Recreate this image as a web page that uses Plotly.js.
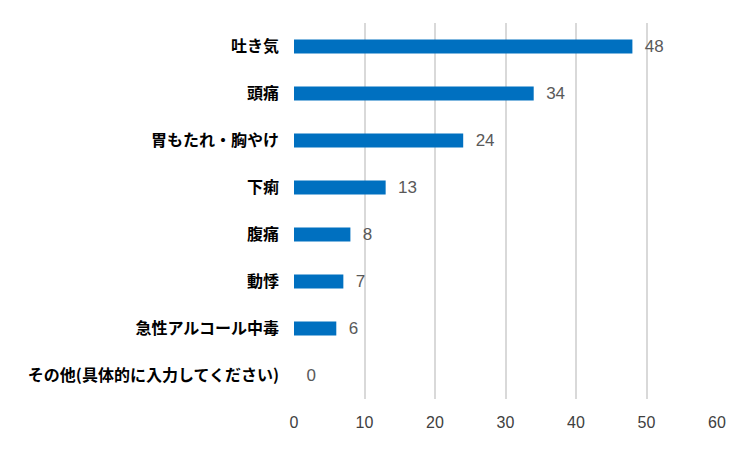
<!DOCTYPE html>
<html>
<head>
<meta charset="utf-8">
<script src="https://cdn.plot.ly/plotly-3.0.1.min.js"></script>
<style>html,body{margin:0;padding:0;background:#fff;}</style>
</head>
<body>
<div id="chart" style="width:751px;height:450px;"></div>
<script>
const categories = ["吐き気", "頭痛", "胃もたれ・胸やけ", "下痢", "腹痛", "動悸", "急性アルコール中毒", "その他(具体的に入力してください)"];
const values = [48, 34, 24, 13, 8, 7, 6, 0];
const xTicks = [0, 10, 20, 30, 40, 50, 60];

const trace = {
  type: "bar",
  orientation: "h",
  y: categories,
  x: values,
  marker: { color: "#0070C0" },
  texttemplate: "\u00a0\u00a0%{x}",
  textposition: "outside",
  constraintext: "none",
  cliponaxis: false,
  textfont: { family: "'Liberation Sans Narrow', 'Liberation Sans', sans-serif", size: 17, color: "#595959" },
  hoverinfo: "none"
};

const layout = {
  width: 751, height: 450,
  margin: { l: 294, r: 34, t: 23, b: 51 },
  paper_bgcolor: "#ffffff",
  plot_bgcolor: "#ffffff",
  showlegend: false,
  bargap: 0.70,
  xaxis: {
    range: [0, 60],
    tickvals: xTicks,
    ticktext: xTicks.map(String),
    showgrid: true,
    gridcolor: "#d9d9d9",
    gridwidth: 2,
    zeroline: false,
    showline: false,
    ticks: "",
    ticklabelstandoff: 12,
    tickfont: { family: "'Liberation Sans Narrow', 'Liberation Sans', sans-serif", size: 16, color: "#404040" }
  },
  yaxis: {
    autorange: "reversed",
    showgrid: false,
    zeroline: false,
    showline: false,
    ticks: "",
    ticklabelstandoff: 14,
    tickfont: { family: "'Noto Sans CJK JP', sans-serif", size: 16, color: "#000000", weight: "bold" }
  }
};

Plotly.newPlot("chart", [trace], layout, { displayModeBar: false, staticPlot: true });
</script>
</body>
</html>
